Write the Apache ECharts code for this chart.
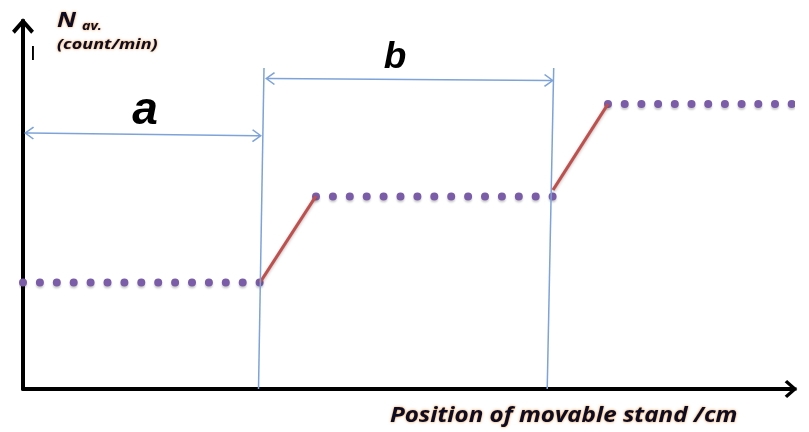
<!DOCTYPE html>
<html>
<head>
<meta charset="utf-8">
<script src="https://cdn.jsdelivr.net/npm/echarts@6/dist/echarts.min.js"></script>
<style>
  html, body { margin: 0; padding: 0; background: #ffffff; }
  #chart { width: 809px; height: 432px; }
</style>
</head>
<body>
<div id="chart"></div>
<script>
// Schematic: average count rate vs. position of the movable stand
const xAxisTitle = 'Position of movable stand /cm';
const yAxisSymbol = 'N';
const yAxisSubscript = 'av.';
const yAxisUnit = '(count/min)';

// Plateaus (flat count-rate levels)
const plateauStart = [0, 29.3, 58.5];
const plateauEnd = [23.75, 53.05, 78.6];
const plateauValue = [10.65, 19.25, 28.5];

// Transitions between plateaus
const riseStart = [[23.7, 10.65], [53.0, 19.9]];
const riseEnd = [[29.3, 19.3], [58.5, 28.5]];

// Boundary markers and the dimension arrows a, b
const boundaryTop = [[24.1, 32.1], [53.07, 32.1]];
const boundaryBottom = [[23.55, 0], [52.42, 0]];
const dimLabels = ['a', 'b'];
const dimStart = [[0.6, 25.6], [24.7, 31.05]];
const dimEnd = [[23.4, 25.33], [52.6, 30.85]];

const purple = '#7a5ca8';
const red = '#c0504d';
const blue = '#7ea3d8';

// open chevron arrow heads (pointing up, shaft filled to the box centre)
const bigArrow = 'path://M11,0 L22,12.5 L19.2,15.5 L11,6 L2.8,15.5 L0,12.5 Z M9,1 L13,1 L13,8 L9,8 Z';
const thinArrow = 'path://M6.5,0 L13,8.6 L11.9,9.6 L6.5,2.3 L1.1,9.6 L0,8.6 Z M5.8,0.8 L7.2,0.8 L7.2,5 L5.8,5 Z';

const series = [];
plateauValue.forEach((v, i) => {
  series.push({
    type: 'line',
    data: [[plateauStart[i], v], [plateauEnd[i], v]],
    showSymbol: false,
    clip: false,
    z: 3,
    lineStyle: {
      color: purple, width: 8, cap: 'round',
      type: [0, i === 2 ? 16.7 : 16.9],
      shadowColor: 'rgba(0,0,0,0.2)', shadowBlur: 2, shadowOffsetY: 2
    }
  });
});
riseStart.forEach((p, i) => {
  series.push({
    type: 'line',
    data: [p, riseEnd[i]],
    showSymbol: false,
    z: 4,
    lineStyle: {
      color: red, width: 3.2,
      shadowColor: 'rgba(0,0,0,0.25)', shadowBlur: 3, shadowOffsetY: 1.5
    }
  });
});

const markData = [];
boundaryTop.forEach((p, i) => {
  markData.push([
    { coord: p, symbol: 'none' },
    { coord: boundaryBottom[i], symbol: 'none' }
  ]);
});
dimLabels.forEach((name, i) => {
  markData.push([
    { coord: dimStart[i], symbol: thinArrow, symbolSize: [13, 10] },
    { coord: dimEnd[i], symbol: thinArrow, symbolSize: [13, 10] }
  ]);
});
series.push({
  type: 'line',
  data: [],
  z: 5,
  markLine: {
    silent: true,
    animation: false,
    symbol: 'none',
    label: { show: false },
    lineStyle: { color: blue, width: 1.5, type: 'solid' },
    emphasis: { disabled: true },
    data: markData
  }
});

const ink = '#0c0c24';
const glow = 'rgba(235,130,20,0.9)';
function label(text, x, y, font, sx, extra) {
  return {
    type: 'text', x: x, y: y, z: 10, scaleX: sx,
    style: Object.assign({
      text: text, font: font, fill: ink,
      textShadowColor: glow, textShadowBlur: 2.5
    }, extra || {})
  };
}

const chart = echarts.init(document.getElementById('chart'), null, { renderer: 'canvas' });
chart.setOption({
  animation: false,
  backgroundColor: '#ffffff',
  grid: { left: 23, right: 18, top: 26, bottom: 43, containLabel: false },
  xAxis: {
    type: 'value', min: 0, max: 76.8,
    axisLine: {
      show: true, symbol: ['none', bigArrow], symbolSize: [18, 22],
      lineStyle: { color: '#000', width: 4 }
    },
    axisTick: { show: false }, axisLabel: { show: false }, splitLine: { show: false }
  },
  yAxis: {
    type: 'value', min: 0, max: 36.3,
    axisLine: {
      show: true, symbol: ['none', bigArrow], symbolSize: [22, 16],
      lineStyle: { color: '#000', width: 4 }
    },
    axisTick: { show: false }, axisLabel: { show: false }, splitLine: { show: false }
  },
  series: series,
  graphic: [
    label(yAxisSymbol, 57, 11, 'italic bold 21px "Open Sans"', 1.2),
    label(yAxisSubscript, 82, 20, 'italic bold 13px "Open Sans"', 1.1),
    label(yAxisUnit, 57, 37, 'italic bold 15px "Open Sans"', 1.2),
    label('I', 30, 45, '20px "DejaVu Sans"', 1, { fill: '#000', textShadowBlur: 0 }),
    label(dimLabels[0], 145, 111, 'italic bold 46px "Liberation Sans"', 1,
      { align: 'center', verticalAlign: 'middle', fill: '#000', textShadowBlur: 0 }),
    label(dimLabels[1], 395, 58, 'italic bold 37px "Liberation Sans"', 1,
      { align: 'center', verticalAlign: 'middle', fill: '#000', textShadowBlur: 0 }),
    label(xAxisTitle, 390, 406, 'italic bold 21px "Open Sans"', 1.15)
  ]
});
</script>
</body>
</html>
